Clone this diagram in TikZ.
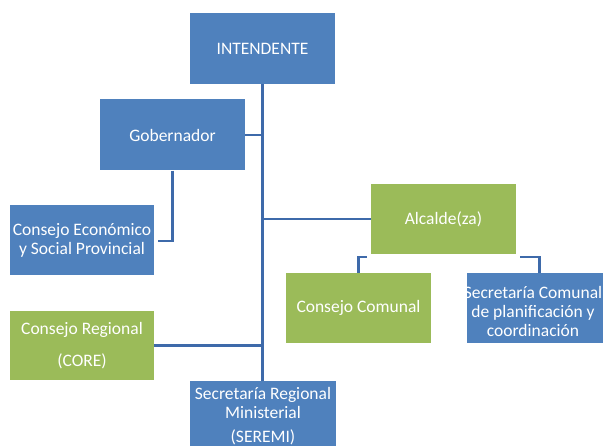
\documentclass[tikz,border=0pt]{standalone}
\usepackage{fontspec}
\setmainfont{Carlito}
\usetikzlibrary{calc}
\definecolor{boxblue}{RGB}{79,129,189}
\definecolor{boxgreen}{RGB}{155,187,89}
\definecolor{linkblue}{RGB}{62,106,170}
\tikzset{
  orgbox/.style={rectangle, minimum width=145pt, minimum height=71pt, inner sep=0pt,
    text=white, align=center, font=\fontsize{17.5}{19}\selectfont},
  bluebox/.style={orgbox, fill=boxblue},
  greenbox/.style={orgbox, fill=boxgreen},
  boxtext/.style={text=white, align=center, inner sep=0pt, font=\fontsize{17.5}{19}\selectfont},
  link/.style={draw=linkblue, line width=2.6pt}
}
\begin{document}
\begin{tikzpicture}[x=1pt,y=-1pt]
\useasboundingbox (0,0) rectangle (603,446);
\begin{scope}
\clip (0,0) rectangle (603,446);
\node[bluebox] (int) at (262.5,48.5) {INTENDENTE};
\node[bluebox] (gob) at (172.5,135) {Gobernador};
\node[bluebox, minimum width=144pt, minimum height=70pt] (ces) at (82,240) {Consejo Económico\\y Social Provincial};
\node[greenbox, minimum height=70pt] (alc) at (443.5,219) {Alcalde(za)};
\node[greenbox, minimum height=70pt] (cc) at (358.5,308) {Consejo Comunal};
\node[bluebox, minimum height=70pt] (sc) at (539.5,308) {};
\node[boxtext] (sct) at (533,311) {Secretaría Comunal\\de planificación y\\coordinación};
\node[greenbox, minimum width=144pt, minimum height=69pt] (core) at (82,345.5) {Consejo Regional\\[13pt](CORE)};
\node[bluebox, minimum width=146pt, minimum height=71pt] (ser) at (263,416.5) {Secretaría Regional\\Ministerial\\[5pt](SEREMI)};

\coordinate (al) at (367,257);
\coordinate (ar) at (520,257);

\draw[link] (int.south) -- (int.south |- ser.north);
\draw[link] (gob.east) -- (gob.east -| int.south);
\draw[link] (gob.south) |- ($(ces.east)+(4,1)$);
\draw[link] (alc.west) -- (alc.west -| int.south);
\draw[link] (core.east) -- (core.east -| int.south);
\draw[link] (al) -| (cc.north);
\draw[link] (ar) -| (sc.north);
\end{scope}
\end{tikzpicture}
\end{document}
